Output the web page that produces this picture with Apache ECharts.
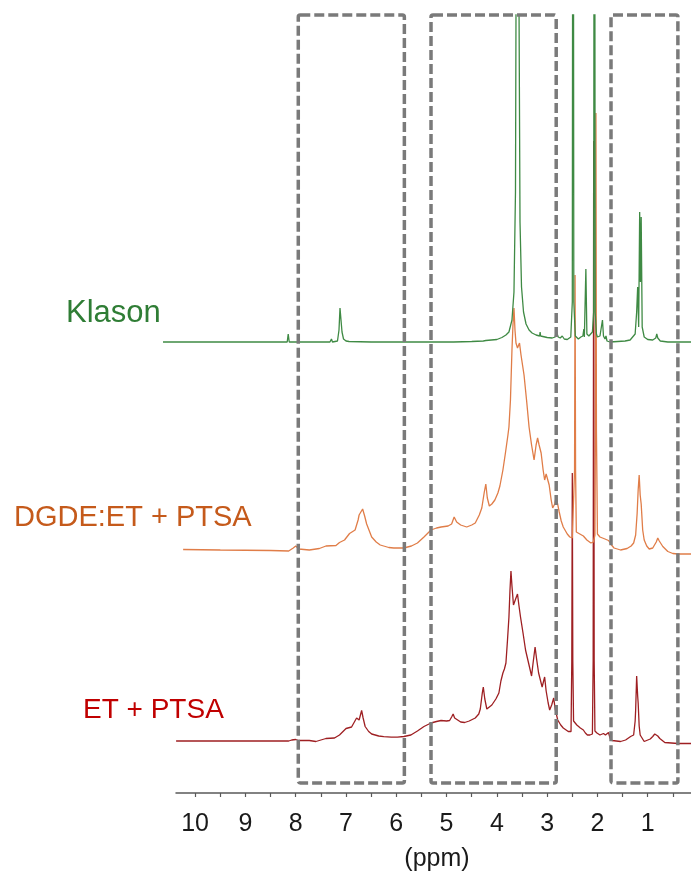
<!DOCTYPE html>
<html>
<head>
<meta charset="utf-8">
<script src="https://cdn.jsdelivr.net/npm/echarts@6/dist/echarts.min.js"></script>
<style>
  html, body { margin: 0; padding: 0; background: #ffffff; }
  #chart { width: 691px; height: 872px; }
</style>
</head>
<body>
<div id="chart"></div>
<script>
// 1H NMR spectra, [chemical shift (ppm), intensity above the trace's own baseline]
const klason = [
  [10.64, 0], [8.5, 0], [8.17, 0], [8.15, 0.8], [8.13, 0], [7.32, 0], [7.29, 0.3], [7.27, 0],
  [7.17, 0.1], [7.14, 1.2], [7.12, 3.4], [7.10, 3.2], [7.08, 1.0], [7.05, 0.3], [7.0, 0.1],
  [6.94, 0.05], [6.93, 0.25], [6.91, 0.05], [6.5, 0], [5.5, 0], [4.92, 0], [4.89, 0.15], [4.86, 0],
  [4.5, 0.05], [4.27, 0.1], [4.25, 0.3], [4.22, 0.15], [4.0, 0.25], [3.9, 0.45], [3.82, 0.7],
  [3.76, 1.0], [3.70, 2.2], [3.66, 5], [3.63, 15], [3.61, 50], [3.59, 90], [3.57, 45], [3.54, 12],
  [3.51, 5.5], [3.47, 3.0], [3.42, 1.8], [3.36, 1.2], [3.30, 0.9], [3.22, 0.7], [3.15, 0.6],
  [3.14, 1.0], [3.13, 0.6], [3.0, 0.45], [2.9, 0.4], [2.84, 0.5], [2.82, 1.1], [2.80, 1.0],
  [2.78, 0.5], [2.74, 0.4], [2.70, 0.6], [2.66, 0.3], [2.6, 0.25], [2.53, 0.5], [2.50, 4],
  [2.485, 90], [2.47, 4], [2.44, 0.6], [2.38, 0.3], [2.33, 0.5], [2.29, 0.6], [2.27, 1.3],
  [2.26, 0.5], [2.24, 0.6], [2.23, 7.3], [2.21, 0.8], [2.17, 0.6], [2.14, 0.8], [2.10, 1.0],
  [2.075, 3], [2.06, 90], [2.045, 3], [2.02, 0.8], [2.0, 0.5], [1.95, 0.6], [1.92, 0.8],
  [1.90, 2.2], [1.88, 0.6], [1.85, 0.3], [1.83, 0.6], [1.81, 0.1], [1.75, 0], [1.6, 0.05],
  [1.45, 0.1], [1.35, 0.2], [1.25, 0.8], [1.22, 3], [1.20, 5.5], [1.18, 1.5], [1.16, 13],
  [1.145, 6], [1.13, 12.5], [1.11, 1.5], [1.07, 0.5], [1.0, 0.25], [0.9, 0.2], [0.84, 0.4],
  [0.82, 0.8], [0.80, 0.4], [0.75, 0.1], [0.6, 0], [0.0, 0]
];

const dgdeEt = [
  [10.24, 0.05], [9.5, 0.0], [8.5, -0.05], [8.14, -0.1], [8.05, 0.2], [8.0, 0.4], [7.94, 0.1],
  [7.73, 0], [7.53, 0.15], [7.40, 0.4], [7.20, 0.45], [7.13, 0.75], [7.03, 1.0], [6.93, 1.65],
  [6.82, 2.0], [6.76, 3.0], [6.74, 3.5], [6.71, 3.3], [6.67, 4.1], [6.63, 3.4], [6.59, 2.6],
  [6.49, 1.3], [6.40, 0.8], [6.32, 0.5], [6.15, 0.25], [6.05, 0.2], [5.85, 0.2], [5.70, 0.4],
  [5.58, 0.7], [5.45, 1.3], [5.31, 2.0], [5.20, 2.2], [5.11, 2.3], [4.97, 2.4], [4.90, 2.6],
  [4.85, 3.3], [4.80, 2.8], [4.72, 2.5], [4.60, 2.3], [4.50, 2.5], [4.43, 2.7], [4.35, 3.5],
  [4.30, 4.2], [4.25, 5.8], [4.22, 6.6], [4.19, 5.2], [4.15, 4.4], [4.10, 4.6], [4.04, 5.0],
  [3.98, 5.7], [3.94, 6.4], [3.88, 8.0], [3.83, 9.7], [3.78, 11.5], [3.76, 12.3], [3.73, 15],
  [3.70, 20.0], [3.68, 22.5], [3.66, 24.2], [3.64, 22], [3.62, 20.7], [3.59, 20.2], [3.57, 20.0],
  [3.55, 20.7], [3.52, 19.5], [3.49, 18.5], [3.46, 17.5], [3.41, 15], [3.36, 12.3], [3.31, 10.5],
  [3.26, 9.0], [3.22, 10.5], [3.19, 11.2], [3.16, 10.5], [3.12, 9.7], [3.08, 8.0], [3.05, 7.0],
  [3.02, 7.6], [2.99, 7.8], [2.96, 6.5], [2.92, 5.0], [2.89, 4.2], [2.85, 4.6], [2.82, 5.3],
  [2.80, 5.1], [2.76, 3.8], [2.72, 2.9], [2.68, 2.3], [2.60, 1.6], [2.55, 1.3], [2.50, 1.2],
  [2.465, 1.3], [2.455, 8], [2.445, 27.5], [2.435, 8], [2.42, 1.8], [2.35, 1.6], [2.28, 1.4],
  [2.25, 1.3], [2.21, 1.0], [2.13, 0.7], [2.08, 0.8], [2.05, 1.5], [2.04, 12], [2.03, 43.7],
  [2.02, 12], [2.00, 1.6], [1.95, 1.3], [1.90, 1.2], [1.85, 1.1], [1.78, 0.95], [1.72, 0.5],
  [1.67, 0.2], [1.54, 0.0], [1.41, 0.15], [1.33, 0.4], [1.28, 0.7], [1.24, 1.5], [1.21, 3.7],
  [1.19, 6], [1.17, 7.5], [1.15, 5.5], [1.13, 4.6], [1.10, 2.0], [1.07, 1.0], [1.02, 0.4],
  [0.97, 0.1], [0.90, 0.2], [0.87, 0.35], [0.83, 0.8], [0.80, 1.2], [0.77, 0.9], [0.70, 0.35],
  [0.60, -0.15], [0.50, -0.35], [0.40, -0.4], [0.0, -0.4]
];

const etPtsa = [
  [10.38, 0], [9.0, 0], [8.14, 0], [8.08, 0.1], [8.05, 0.3], [8.0, 0.15], [7.94, 0.05], [7.73, 0.05],
  [7.60, -0.05], [7.50, 0.1], [7.40, 0.25], [7.23, 0.3], [7.13, 0.6], [7.0, 1.25], [6.89, 1.4],
  [6.79, 2.3], [6.74, 2.1], [6.69, 3.05], [6.66, 2.3], [6.62, 1.45], [6.55, 0.95], [6.49, 0.7],
  [6.35, 0.5], [6.25, 0.43], [6.1, 0.38], [5.98, 0.38], [5.85, 0.45], [5.71, 0.6], [5.58, 1.0],
  [5.45, 1.45], [5.31, 1.8], [5.20, 1.95], [5.11, 2.05], [5.0, 2.0], [4.94, 2.05], [4.90, 2.4],
  [4.87, 2.7], [4.84, 2.3], [4.81, 2.15], [4.72, 1.9], [4.64, 1.85], [4.55, 2.0], [4.43, 2.3],
  [4.36, 2.7], [4.33, 3.2], [4.29, 4.8], [4.27, 5.4], [4.24, 4.2], [4.20, 3.2], [4.15, 3.4],
  [4.10, 3.6], [4.02, 4.2], [3.96, 4.8], [3.92, 6.0], [3.88, 6.8], [3.85, 7.2], [3.82, 7.8],
  [3.79, 10], [3.76, 12.4], [3.74, 15], [3.72, 17.0], [3.70, 15.5], [3.67, 13.6], [3.65, 13.5],
  [3.62, 14.3], [3.59, 14.7], [3.56, 13.5], [3.53, 12.4], [3.48, 10.8], [3.43, 9.1], [3.37, 7.8],
  [3.31, 6.5], [3.28, 7.8], [3.24, 9.4], [3.21, 8.2], [3.17, 6.8], [3.13, 6.0], [3.10, 5.4],
  [3.07, 6.0], [3.05, 6.4], [3.02, 5.0], [2.98, 3.8], [2.95, 3.1], [2.91, 3.6], [2.87, 4.3],
  [2.84, 3.2], [2.79, 2.1], [2.73, 1.6], [2.68, 1.3], [2.58, 0.95], [2.525, 0.95], [2.51, 8],
  [2.50, 26.8], [2.49, 8], [2.475, 2.0], [2.41, 1.6], [2.34, 1.3], [2.28, 1.1], [2.24, 0.8],
  [2.20, 0.6], [2.15, 0.6], [2.10, 0.7], [2.085, 8], [2.075, 60], [2.065, 8], [2.05, 1.0],
  [2.01, 0.8], [1.95, 0.6], [1.88, 0.75], [1.84, 0.6], [1.81, 0.6], [1.78, 0.85], [1.75, 0.3],
  [1.71, 0.05], [1.54, -0.05], [1.44, 0.1], [1.34, 0.45], [1.28, 0.6], [1.25, 2], [1.24, 3.1],
  [1.22, 6.5], [1.20, 4.5], [1.19, 3.8], [1.17, 1.5], [1.15, 0.6], [1.07, -0.05], [0.95, 0.2],
  [0.90, 0.45], [0.86, 0.7], [0.83, 0.85], [0.80, 0.5], [0.76, 0.25], [0.66, -0.15],
  [0.40, -0.25], [0.0, -0.25]
];

// vertical stacking offset of each trace
const klasonOffset = 45.1;
const dgdeEtOffset = 24.3;
const etPtsaOffset = 5.2;

// highlighted chemical-shift windows [from, to] in ppm
const regions = [[7.95, 5.84], [5.31, 2.82], [1.73, 0.40]];

const tickLabels = [1, 2, 3, 4, 5, 6, 7, 8, 9, 10];
const minorTicks = [0.5, 1, 1.5, 2, 2.5, 3, 3.5, 4, 4.5, 5, 5.5, 6, 6.5, 7, 7.5, 8, 8.5, 9, 9.5, 10];

const Y_MAX = 77.8;
const REGION_BOTTOM = 1.0;
const FONT = '"Liberation Sans", Arial, sans-serif';

function shifted(points, offset) {
  return points.map(p => [p[0], p[1] + offset]);
}

function trace(name, points, offset, color) {
  return {
    type: 'line',
    name: name,
    xAxisIndex: 0,
    yAxisIndex: 0,
    data: shifted(points, offset),
    showSymbol: false,
    symbol: 'none',
    clip: true,
    silent: true,
    lineStyle: { color: color, width: 1.3 }
  };
}

const chart = echarts.init(document.getElementById('chart'), null, { renderer: 'canvas' });

// the 0 ppm end of both grids sits just past the right edge of the canvas
chart.setOption({
  animation: false,
  backgroundColor: '#ffffff',
  grid: [
    { left: 160, width: 538, top: 15, bottom: 79, containLabel: false, outerBoundsMode: 'none' },
    { left: 176, width: 522, top: 15, bottom: 79, containLabel: false, outerBoundsMode: 'none' }
  ],
  xAxis: [
    { gridIndex: 0, type: 'value', inverse: true, min: 0, max: 10.7, show: false },
    {
      gridIndex: 1, type: 'value', inverse: true, min: 0, max: 10.38, interval: 0.5,
      axisLine: { show: true, lineStyle: { color: '#595959', width: 1.5 } },
      axisTick: { show: true, inside: false, length: 4, customValues: minorTicks,
        lineStyle: { color: '#595959', width: 1.2 } },
      axisLabel: {
        customValues: tickLabels,
        margin: 19, color: '#1a1a1a', fontSize: 25, fontFamily: FONT,
        formatter: v => (Number.isInteger(v) && v > 0) ? String(v) : ''
      },
      splitLine: { show: false },
      name: '(ppm)', nameLocation: 'middle', nameGap: 54,
      nameTextStyle: { color: '#1a1a1a', fontSize: 25, fontFamily: FONT }
    }
  ],
  yAxis: [
    { gridIndex: 0, type: 'value', min: 0, max: Y_MAX, show: false },
    { gridIndex: 1, type: 'value', min: 0, max: Y_MAX, show: false }
  ],
  series: [
    trace('ET + PTSA', etPtsa, etPtsaOffset, '#9e1f22'),
    trace('DGDE:ET + PTSA', dgdeEt, dgdeEtOffset, '#e07d48'),
    trace('Klason', klason, klasonOffset, '#3f8a44'),
    {
      type: 'custom',
      xAxisIndex: 0,
      yAxisIndex: 0,
      silent: true,
      clip: false,
      z: 10,
      data: regions.map(r => [r[0], r[1], Y_MAX, REGION_BOTTOM]),
      renderItem: function (params, api) {
        const a = api.coord([api.value(0), api.value(2)]);
        const b = api.coord([api.value(1), api.value(3)]);
        return {
          type: 'rect',
          shape: {
            x: Math.min(a[0], b[0]), y: Math.min(a[1], b[1]),
            width: Math.abs(b[0] - a[0]), height: Math.abs(b[1] - a[1]), r: 2
          },
          style: { fill: 'none', stroke: '#7a7a7a', lineWidth: 3.5, lineDash: [10, 4] }
        };
      }
    }
  ],
  graphic: [
    { type: 'text', x: 66, y: 313, silent: true,
      style: { text: 'Klason', fill: '#2f7d35', fontSize: 31, fontFamily: FONT, align: 'left', verticalAlign: 'middle' } },
    { type: 'text', x: 14, y: 518, silent: true,
      style: { text: 'DGDE:ET + PTSA', fill: '#c55a1b', fontSize: 29, fontFamily: FONT, align: 'left', verticalAlign: 'middle' } },
    { type: 'text', x: 83, y: 710, silent: true,
      style: { text: 'ET + PTSA', fill: '#c00000', fontSize: 28, fontFamily: FONT, align: 'left', verticalAlign: 'middle' } }
  ]
});
</script>
</body>
</html>
